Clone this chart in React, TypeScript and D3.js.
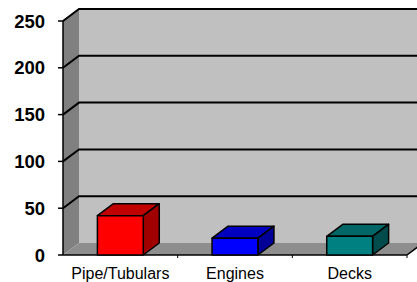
import React from 'react';
import * as d3 from 'd3';

const categories = ['Pipe/Tubulars', 'Engines', 'Decks'];
const values = [42, 18, 20];
const yTicks = [0, 50, 100, 150, 200, 250];

const FRONT = ['#ff0000', '#0000ff', '#008080'];
const TOP = ['#c00000', '#0000c0', '#006666'];
const SIDE = ['#a00000', '#000099', '#004c4c'];

const W = 417;
const H = 282;
const DX = 16;
const DY = -12;

export default function App() {
  const x = d3.scaleBand<string>()
    .domain(categories)
    .range([63, 407])
    .paddingInner(0.6)
    .paddingOuter(0.3);
  const xEdge = d3.scaleBand<string>().domain(categories).range([63, 407]).padding(0);
  const y = d3.scaleLinear().domain([0, 250]).range([255, 21]);

  const x0 = 63;
  const x1 = 407;
  const yb = y(0);
  const yt = y(250);

  return (
    <svg width={W} height={H} style={{ position: 'absolute', left: 0, top: 0 }}>
      {/* back wall */}
      <rect x={x0 + DX} y={yt + DY} width={W} height={yb - yt} fill="#c0c0c0" />
      {/* left wall */}
      <polygon
        points={`${x0},${yt} ${x0 + DX},${yt + DY} ${x0 + DX},${yb + DY} ${x0},${yb}`}
        fill="#808080"
      />
      {/* floor */}
      <polygon
        points={`${x0},${yb} ${x0 + DX},${yb + DY} ${x1 + DX},${yb + DY} ${x1},${yb}`}
        fill="#8e8e8e"
      />
      {/* gridlines */}
      {yTicks.filter((t) => t > 0).map((t) => (
        <polyline
          key={t}
          points={`${x0},${y(t)} ${x0 + DX},${y(t) + DY} ${W + 5},${y(t) + DY}`}
          fill="none"
          stroke="#000"
          strokeWidth={2}
        />
      ))}
      {/* axis lines */}
      <line x1={x0} x2={x0} y1={yt} y2={yb} stroke="#000" strokeWidth={1.5} />
      <line x1={x0} x2={x1} y1={yb} y2={yb} stroke="#000" strokeWidth={1.5} />
      <line x1={x1} x2={x1 + DX} y1={yb} y2={yb + DY} stroke="#000" strokeWidth={1.5} />
      {yTicks.map((t) => (
        <g key={t}>
          <line x1={x0 - 5} x2={x0} y1={y(t)} y2={y(t)} stroke="#000" strokeWidth={1.5} />
          <text
            x={45}
            y={y(t)}
            dy="0.36em"
            textAnchor="end"
            fontFamily="Liberation Sans, Arial, sans-serif"
            fontWeight="bold"
            fontSize={18.5}
            fill="#000"
          >
            {t}
          </text>
        </g>
      ))}
      {categories.map((c) => (
        <line
          key={c}
          x1={xEdge(c)! + xEdge.bandwidth()}
          x2={xEdge(c)! + xEdge.bandwidth()}
          y1={yb}
          y2={yb + 3}
          stroke="#000"
        />
      ))}
      {/* bars */}
      {categories.map((c, i) => {
        const bx = x(c)!;
        const bw = x.bandwidth();
        const top = y(values[i]);
        return (
          <g key={c} stroke="#000" strokeWidth={1.5} strokeLinejoin="round">
            <polygon
              points={`${bx},${top} ${bx + DX},${top + DY} ${bx + bw + DX},${top + DY} ${bx + bw},${top}`}
              fill={TOP[i]}
            />
            <polygon
              points={`${bx + bw},${top} ${bx + bw + DX},${top + DY} ${bx + bw + DX},${yb + DY} ${bx + bw},${yb}`}
              fill={SIDE[i]}
            />
            <rect x={bx} y={top} width={bw} height={yb - top} fill={FRONT[i]} />
          </g>
        );
      })}
      {categories.map((c) => (
        <text
          key={c}
          x={x(c)! + x.bandwidth() / 2}
          y={279}
          textAnchor="middle"
          fontFamily="Liberation Sans, Arial, sans-serif"
          fontSize={16}
          fill="#000"
        >
          {c}
        </text>
      ))}
    </svg>
  );
}
